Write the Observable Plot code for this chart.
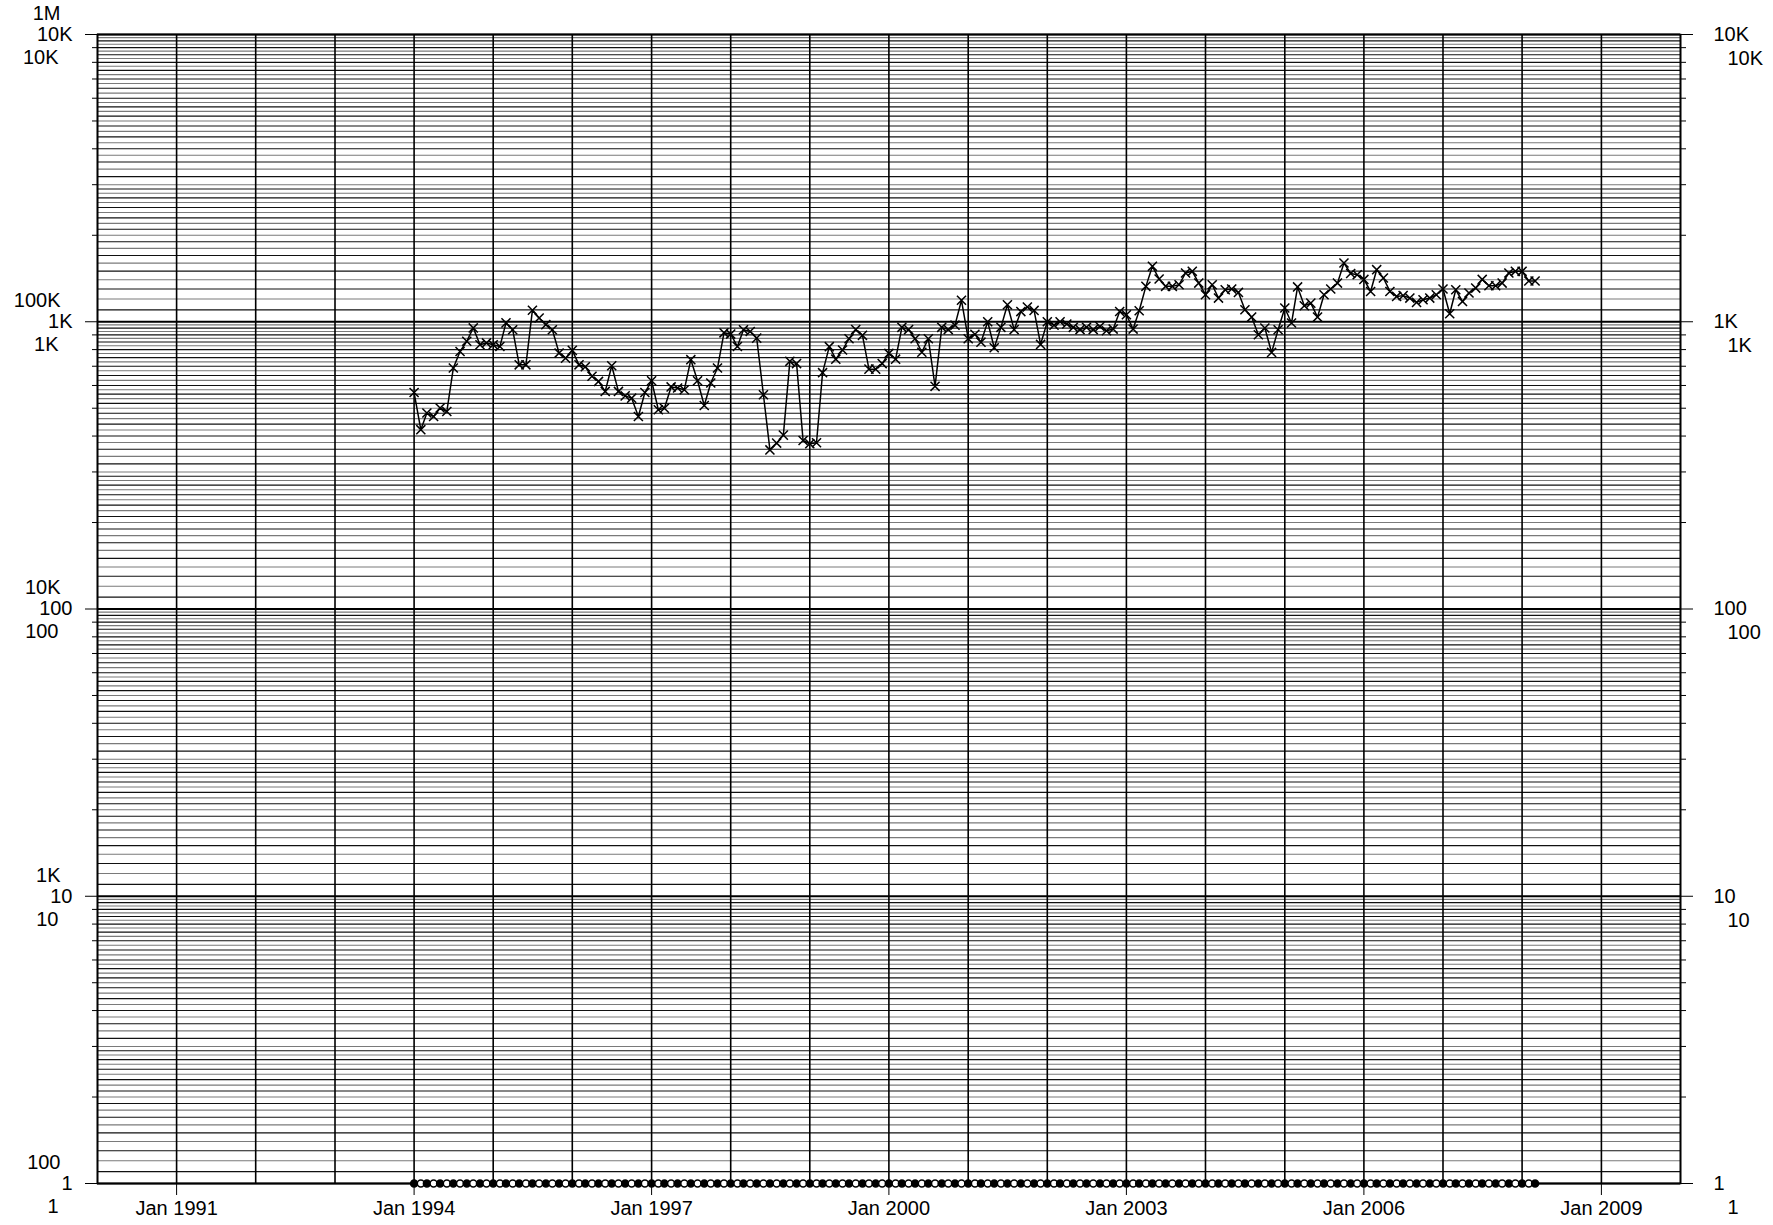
<!DOCTYPE html>
<html>
<head>
<meta charset="utf-8">
<script src="https://cdn.jsdelivr.net/npm/d3@7"></script>
<script src="https://cdn.jsdelivr.net/npm/@observablehq/plot@0.6"></script>
<style>
  body { margin: 0; background: #fff; }
  #chart svg { font-family: "Liberation Sans", Arial, sans-serif; }
</style>
</head>
<body>
<div id="chart"></div>
<script>
// Monthly readings, Jan 1994 – Mar 2008 (one row per year)
const seriesStart = "1994-01-01";
const monthlyValues = [
  567, 421, 481, 468, 501, 487, 690, 788, 855, 952, 832, 844,        // 1994
  832, 820, 991, 938, 708, 708, 1097, 1031, 977, 938, 778, 747,      // 1995
  795, 708, 697, 646, 620, 572, 703, 572, 552, 542, 468, 567,        // 1996
  623, 494, 500, 593, 588, 580, 738, 623, 511, 612, 690, 915,        // 1997
  906, 820, 938, 925, 877, 557, 358, 378, 403, 728, 715, 386,        // 1998
  376, 379, 665, 819, 741, 797, 873, 939, 897, 684, 684, 715,        // 1999
  776, 741, 956, 939, 873, 783, 873, 596, 956, 939, 973, 1188,       // 2000
  873, 905, 849, 1000, 812, 956, 1146, 939, 1085, 1125, 1095, 834,   // 2001
  1000, 973, 1000, 982, 956, 939, 956, 939, 963, 930, 943, 1086,     // 2002
  1058, 943, 1092, 1328, 1559, 1409, 1328, 1328, 1345, 1478, 1498, 1363, // 2003
  1242, 1345, 1209, 1292, 1300, 1265, 1101, 1038, 901, 951, 782, 938,    // 2004
  1116, 990, 1322, 1137, 1161, 1038, 1242, 1300, 1363, 1601, 1472, 1458, // 2005
  1404, 1275, 1518, 1420, 1275, 1225, 1233, 1209, 1168, 1193, 1209, 1242, // 2006
  1300, 1066, 1292, 1177, 1259, 1310, 1404, 1335, 1335, 1363, 1478, 1498, // 2007
  1498, 1386, 1386                                                    // 2008
];

// Companion series sitting on the floor of the scale
const floorValues = [
  1, 1, 1, 1, 1, 1, 1, 1, 1, 1, 1, 1,
  1, 1, 1, 1, 1, 1, 1, 1, 1, 1, 1, 1,
  1, 1, 1, 1, 1, 1, 1, 1, 1, 1, 1, 1,
  1, 1, 1, 1, 1, 1, 1, 1, 1, 1, 1, 1,
  1, 1, 1, 1, 1, 1, 1, 1, 1, 1, 1, 1,
  1, 1, 1, 1, 1, 1, 1, 1, 1, 1, 1, 1,
  1, 1, 1, 1, 1, 1, 1, 1, 1, 1, 1, 1,
  1, 1, 1, 1, 1, 1, 1, 1, 1, 1, 1, 1,
  1, 1, 1, 1, 1, 1, 1, 1, 1, 1, 1, 1,
  1, 1, 1, 1, 1, 1, 1, 1, 1, 1, 1, 1,
  1, 1, 1, 1, 1, 1, 1, 1, 1, 1, 1, 1,
  1, 1, 1, 1, 1, 1, 1, 1, 1, 1, 1, 1,
  1, 1, 1, 1, 1, 1, 1, 1, 1, 1, 1, 1,
  1, 1, 1, 1, 1, 1, 1, 1, 1, 1, 1, 1,
  1, 1, 1
];

// Axis ticks and labels
const yMajorTicks = [1, 10, 100, 1000, 10000];
const yLabels = ["1", "10", "100", "1K", "10K"];
const yLabelsUpper = ["100", "1K", "10K", "100K", "1M"];
const xTickYears = [1991, 1994, 1997, 2000, 2003, 2006, 2009];
const xTickLabels = ["Jan 1991", "Jan 1994", "Jan 1997", "Jan 2000", "Jan 2003", "Jan 2006", "Jan 2009"];
const gridYears = d3.range(1990, 2011);

const start = new Date(seriesStart);
const mainData = monthlyValues.map((v, i) => ({date: d3.utcMonth.offset(start, i), value: v}));
const floorData = floorValues.map((v, i) => ({date: d3.utcMonth.offset(start, i), value: v}));

// Horizontal grid within each decade: fine steps low in the decade, coarser steps higher up
const decades = [1, 10, 100, 1000];
const gridMantissas = [
  ...d3.range(1.1, 3.0, 0.1),
  ...d3.range(3.0, 6.0, 0.2),
  ...d3.range(6.0, 9.9, 0.25)
];
const gridValues = decades.flatMap(d => gridMantissas.map(m => m * d));
const minorTicks = decades.flatMap(d => d3.range(2, 10).map(k => k * d));
const yearDates = gridYears.map(y => new Date(Date.UTC(y, 0, 1)));
const xTickDates = xTickYears.map(y => new Date(Date.UTC(y, 0, 1)));

const yLabel = d => yLabels[yMajorTicks.indexOf(d)];
const xLabel = d => xTickLabels[xTickYears.indexOf(d.getUTCFullYear())];

const chart = Plot.plot({
  width: 1773,
  height: 1225,
  marginLeft: 97,
  marginRight: 93,
  marginTop: 34,
  marginBottom: 42,
  style: {fontFamily: "'Liberation Sans', Arial, sans-serif", background: "#fff", color: "#000"},
  x: {type: "utc", domain: [new Date(Date.UTC(1990, 0, 1)), new Date(Date.UTC(2010, 0, 1))]},
  y: {type: "log", domain: [1, 10000]},
  marks: [
    Plot.ruleY(gridValues, {stroke: (d, i) => i % 2 ? "#7a7a7a" : "#111", strokeWidth: 1.1}),
    Plot.ruleY(yMajorTicks, {stroke: "#000", strokeWidth: 1.8}),
    Plot.ruleX(yearDates, {stroke: "#000", strokeWidth: 1.6}),
    Plot.frame({stroke: "#000", strokeWidth: 1.6}),

    // left axes
    Plot.axisY(minorTicks, {anchor: "left", label: null, tickSize: 5, tickFormat: () => "", stroke: "#000"}),
    Plot.axisY(yMajorTicks, {anchor: "left", label: null, tickSize: 12, tickPadding: 13, tickFormat: yLabel, fontSize: 20, stroke: "#000", fill: "#000"}),
    Plot.text(yMajorTicks, {y: d => d, text: yLabels, frameAnchor: "left", textAnchor: "end", dx: -39, dy: 23, fontSize: 20, fill: "#000"}),
    Plot.text(yMajorTicks, {y: d => d, text: yLabelsUpper, frameAnchor: "left", textAnchor: "end", dx: -37, dy: -21, fontSize: 20, fill: "#000"}),

    // right axes
    Plot.axisY(minorTicks, {anchor: "right", label: null, tickSize: 5, tickFormat: () => "", stroke: "#000"}),
    Plot.axisY(yMajorTicks, {anchor: "right", label: null, tickSize: 12, tickPadding: 21, tickFormat: yLabel, fontSize: 20, stroke: "#000", fill: "#000"}),
    Plot.text(yMajorTicks, {y: d => d, text: yLabels, frameAnchor: "right", textAnchor: "start", dx: 47, dy: 24, fontSize: 20, fill: "#000"}),

    // bottom axis
    Plot.axisX(xTickDates, {anchor: "bottom", label: null, tickSize: 12, tickPadding: 5, tickFormat: xLabel, fontSize: 20, stroke: "#000", fill: "#000"}),

    // series
    Plot.dot(floorData, {x: "date", y: "value", r: 3.5, stroke: "#000", strokeWidth: 1.5, fill: (d, i) => i % 2 === 0 ? "#000" : "#fff"}),
    Plot.line(mainData, {x: "date", y: "value", stroke: "#000", strokeWidth: 1.5}),
    Plot.dot(mainData, {x: "date", y: "value", symbol: "times", r: 4.2, stroke: "#000", strokeWidth: 1.5})
  ]
});

document.getElementById("chart").appendChild(chart);
</script>
</body>
</html>
